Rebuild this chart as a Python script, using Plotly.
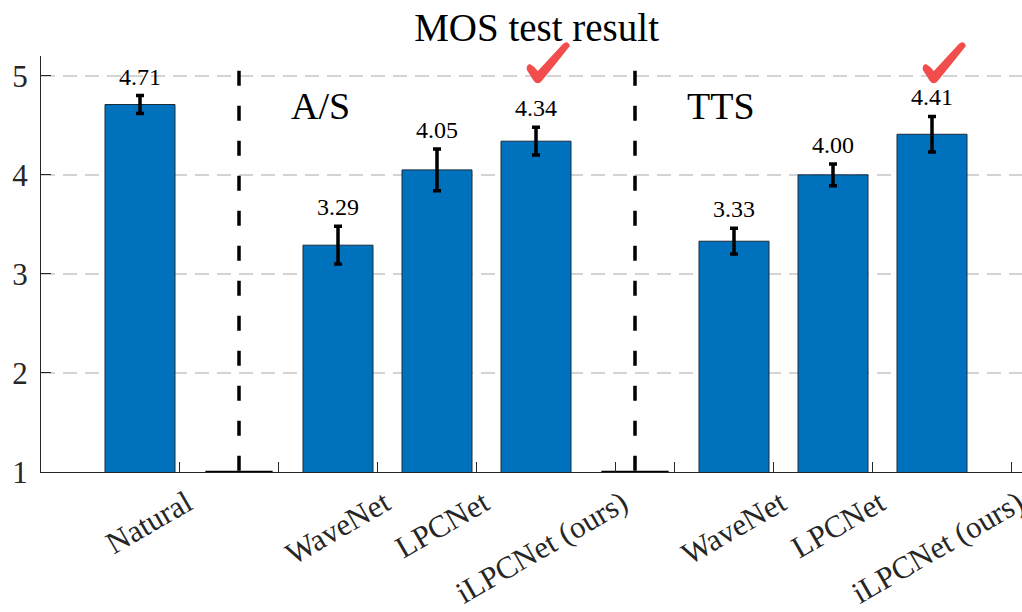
import plotly.graph_objects as go

# MOS scores with confidence half-widths
systems = ["Natural", "WaveNet", "LPCNet", "iLPCNet (ours)", "WaveNet", "LPCNet", "iLPCNet (ours)"]
bar_pos = [1, 3, 4, 5, 7, 8, 9]
mos = [4.71, 3.29, 4.05, 4.34, 3.33, 4.00, 4.41]
ci = [0.09, 0.19, 0.21, 0.14, 0.13, 0.11, 0.18]

# empty slots separating the groups
divider_pos = [2, 6]
group_names = ["A/S", "TTS"]
group_pos = [2.5, 6.5]
ours_pos = [5, 9]

# x tick marks sit to the right of each bar so the slanted labels end under it
tick_vals = [1.4, 2.4, 3.4, 4.4, 5.8, 6.4, 7.4, 8.4, 9.8]
tick_text = ["Natural", "", "WaveNet", "LPCNet", "iLPCNet (ours)", "",
             "WaveNet", "LPCNet", "iLPCNet (ours)"]
y_ticks = [1, 2, 3, 4, 5]

X_RANGE = [0, 981 / 99]
Y_RANGE = [1, 5.2]
CHECK_LEVEL = 5.13

SERIF = "Liberation Serif"
AX = "#262626"
BLUE = "#0072BD"
RED = "#F24D4D"

# brush-style tick mark outline, in pixels around its anchor (y up)
CHECK_PATH = ("M -19 -1 Q -15 -3 -11 -8 Q 2 6 14 19 Q 19 23 21 17 "
              "Q 6 -2 -8 -19 Q -12 -22 -15 -18 L -22 -7 Q -23 -2 -19 -1 Z")


def to_paper(v, rng):
    return (v - rng[0]) / (rng[1] - rng[0])


fig = go.Figure()

fig.add_trace(go.Bar(
    x=bar_pos, y=mos, width=0.707,
    marker=dict(color=BLUE, line=dict(color="#1a2a3a", width=1)),
    error_y=dict(type="data", array=ci, visible=True,
                 color="black", thickness=3.5, width=4),
    hoverinfo="skip", showlegend=False,
))

# zero-height placeholders in the empty slots
for d in divider_pos:
    fig.add_trace(go.Scatter(
        x=[d - 0.34, d + 0.34], y=[1, 1], mode="lines",
        line=dict(color="black", width=2.5), cliponaxis=False,
        hoverinfo="skip", showlegend=False,
    ))
    # dashed separators
    fig.add_trace(go.Scatter(
        x=[d, d], y=[5.05, 1], mode="lines",
        line=dict(color="black", width=3.5, dash="15px,20px"),
        hoverinfo="skip", showlegend=False,
    ))

annotations = []
for x, v, e in zip(bar_pos, mos, ci):
    annotations.append(dict(
        x=x, y=v + e, xref="x", yref="y", text=f"{v:.2f}",
        showarrow=False, yanchor="bottom", yshift=4,
        font=dict(family=SERIF, size=24, color="black"),
    ))
for name, gx in zip(group_names, group_pos):
    annotations.append(dict(
        x=gx, y=4.7, xref="x", yref="y", text=name, showarrow=False,
        xanchor="left", yanchor="middle",
        font=dict(family=SERIF, size=38, color="black"),
    ))

# red check marks over our model's bars (paper refs so they are not clipped)
shapes = []
for ox in ours_pos:
    shapes.append(dict(
        type="path", xref="paper", yref="paper",
        xsizemode="pixel", ysizemode="pixel",
        xanchor=to_paper(ox + 0.13, X_RANGE), yanchor=to_paper(CHECK_LEVEL, Y_RANGE),
        path=CHECK_PATH, fillcolor=RED, line=dict(width=0), layer="above",
    ))

fig.update_layout(
    width=1022, height=612,
    margin=dict(l=41, r=0, t=56, b=140),
    paper_bgcolor="white", plot_bgcolor="white",
    font=dict(family=SERIF),
    title=dict(text="MOS test result", x=0.525, xanchor="center",
               y=1 - 27 / 612, yanchor="middle", yref="container",
               font=dict(family=SERIF, size=39, color="black")),
    annotations=annotations,
    shapes=shapes,
    xaxis=dict(
        range=X_RANGE, tickmode="array", tickvals=tick_vals, ticktext=tick_text,
        tickangle=-30, ticks="inside", ticklen=10, tickwidth=1, tickcolor=AX,
        showline=True, linecolor=AX, linewidth=1.3, showgrid=False, zeroline=False,
        tickfont=dict(family=SERIF, size=31, color="#262626"),
        ticklabelstandoff=0, ticklabelshift=7,
        ticklabeloverflow="allow", automargin=False,
    ),
    yaxis=dict(
        range=Y_RANGE, tickmode="array", tickvals=y_ticks,
        ticks="inside", ticklen=10, tickwidth=1, tickcolor=AX,
        showline=True, linecolor=AX, linewidth=1.3, zeroline=False,
        showgrid=True, gridcolor="#d4d4d4", gridwidth=1.5, griddash="14px,8px",
        tickfont=dict(family=SERIF, size=31, color="#262626"),
        ticklabelstandoff=6, automargin=False,
    ),
)

fig.write_html("out.html")
